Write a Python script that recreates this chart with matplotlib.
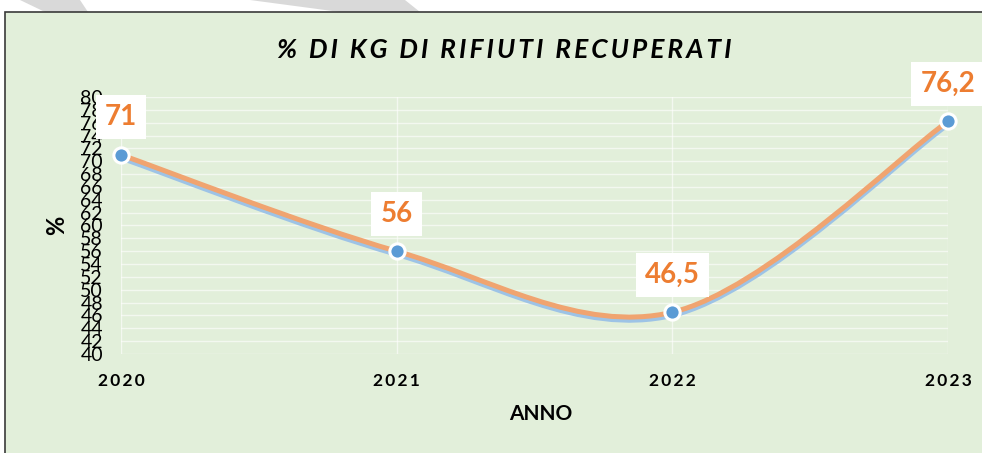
import matplotlib
matplotlib.use("Agg")
import matplotlib.pyplot as plt
from matplotlib.path import Path
from matplotlib.patches import PathPatch, Rectangle, Polygon
from matplotlib import transforms

plt.rcParams['font.family'] = ['Lato', 'DejaVu Sans']

# dati
anni = [2020, 2021, 2022, 2023]
percentuali = [71, 56, 46.5, 76.2]
etichette = ["71", "56", "46,5", "76,2"]
yticks = list(range(40, 81, 2))

TITOLO = "% DI KG DI RIFIUTI RECUPERATI"
ARANCIO = "#f0a470"
AZZURRO = "#9dc3e6"
BLU = "#5b9bd5"
TESTO_ARANCIO = "#ed7d31"
SFONDO = "#e2efda"
HAIR = "\u200a"


def spaziato(s, n=2):
    # spaziatura tra le lettere come nel grafico originale
    return (HAIR * n).join(s)


# curva smussata stile Excel (Bezier cubiche)
def smooth_path(xs, ys):
    pts = list(zip(xs, ys))
    n = len(pts)
    verts = [pts[0]]
    codes = [Path.MOVETO]
    for i in range(n - 1):
        p0 = pts[max(i - 1, 0)]
        p1 = pts[i]
        p2 = pts[i + 1]
        p3 = pts[min(i + 2, n - 1)]
        c1 = (p1[0] + (p2[0] - p0[0]) / 6, p1[1] + (p2[1] - p0[1]) / 6)
        c2 = (p2[0] - (p3[0] - p1[0]) / 6, p2[1] - (p3[1] - p1[1]) / 6)
        verts += [c1, c2, p2]
        codes += [Path.CURVE4] * 3
    return Path(verts, codes)


fig = plt.figure(figsize=(9.82, 4.53), dpi=100)
fig.patch.set_facecolor("white")

# decorazioni grigie della slide
fig.patches.append(Polygon([(20 / 982, 1), (80 / 982, 1), (88 / 982, 1 - 12 / 453), (45 / 982, 1 - 12 / 453)],
                           closed=True, transform=fig.transFigure, facecolor="#d9d9d9", edgecolor="none", zorder=0))
fig.patches.append(Polygon([(250 / 982, 1), (405 / 982, 1), (420 / 982, 1 - 12 / 453), (340 / 982, 1 - 12 / 453)],
                           closed=True, transform=fig.transFigure, facecolor="#d9d9d9", edgecolor="none", zorder=0))
# riquadro del grafico
fig.patches.append(Rectangle((5 / 982, -0.1), 1.1, 1.1 - 12 / 453, transform=fig.transFigure,
                             facecolor=SFONDO, edgecolor="#3a3a3a", linewidth=1.2, zorder=1))

ax = fig.add_axes([121 / 982, 99 / 453, 827 / 982, 257 / 453])
ax.set_zorder(2)
ax.set_facecolor("none")
ax.set_xlim(2020, 2023)
ax.set_ylim(40, 80)

for s in ax.spines.values():
    s.set_visible(False)

ax.set_yticks(yticks)
ax.set_xticks(anni)
ax.set_xticklabels([spaziato(str(a)) for a in anni], fontsize=12.5, fontweight="bold")
ax.tick_params(axis="y", length=0, pad=13, labelsize=14)
ax.tick_params(axis="x", length=0, pad=14)
ax.grid(True, color="white", linewidth=1, alpha=0.6)
ax.set_axisbelow(True)

path = smooth_path(anni, percentuali)
ombra = transforms.offset_copy(ax.transData, fig=fig, x=0, y=-3, units="dots")
ax.add_patch(PathPatch(path, facecolor="none", edgecolor=AZZURRO, linewidth=3.8,
                       transform=ombra, clip_on=False, zorder=3))
ax.add_patch(PathPatch(path, facecolor="none", edgecolor=ARANCIO, linewidth=3.6,
                       clip_on=False, zorder=4, capstyle="round"))

ax.plot(anni, percentuali, linestyle="none", marker="o", markersize=11,
        markerfacecolor=BLU, markeredgecolor="white", markeredgewidth=2.2,
        clip_on=False, zorder=5)

for x, y, t in zip(anni, percentuali, etichette):
    ax.annotate(t, (x, y), xytext=(0, 27), textcoords="offset points",
                ha="center", va="center", fontsize=20, fontweight="bold", color=TESTO_ARANCIO,
                bbox=dict(boxstyle="square,pad=0.33", facecolor="white", edgecolor="none"),
                zorder=6, annotation_clip=False)

ax.set_ylabel("%", fontsize=17, fontweight="bold")
ax.yaxis.set_label_coords(-0.064, 0.5)
ax.set_xlabel("ANNO", fontsize=15, fontweight="bold")
ax.xaxis.set_label_coords(0.507, -0.195)

fig.text(504 / 982, 1 - 50 / 453, spaziato(TITOLO), ha="center", va="center",
         fontsize=19, fontweight="bold", fontstyle="italic")

fig.savefig("out.png", dpi=100)
